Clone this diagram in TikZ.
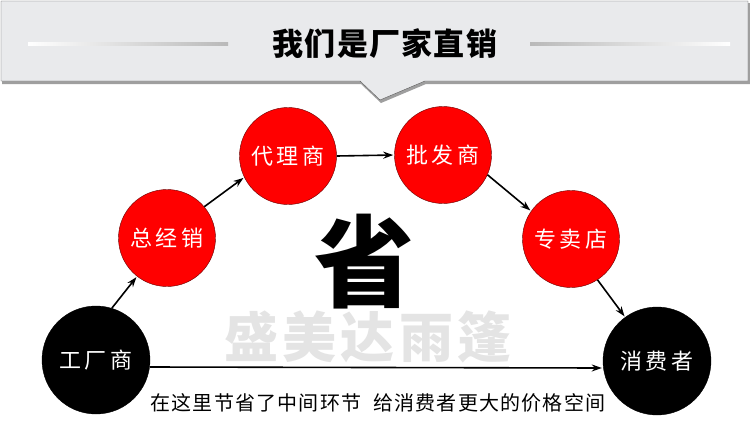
\documentclass[tikz,border=0pt]{standalone}
\usepackage{fontspec}
\usepackage{tikz}
\usetikzlibrary{positioning, arrows.meta}
\newfontfamily\cjk{Noto Sans CJK SC}
\definecolor{bannergray}{HTML}{E9EAEC}
\definecolor{wmgray}{HTML}{E4E4E4}

\begin{document}
\begin{tikzpicture}[x=1pt, y=-1pt, >={Stealth[length=10pt, width=7pt]},
  redball/.style={circle, fill=red, draw=red!40!black, thin, minimum size=97pt, inner sep=0pt, text=white, font=\cjk\fontsize{22}{22}\selectfont\addfontfeature{LetterSpace=16}},
  blackball/.style={redball, fill=black, draw=black, minimum size=108pt},
  flow/.style={->, line width=1.6pt, shorten >=1pt}]
  \useasboundingbox (0,0) rectangle (750,437);

  % Draw banner with pointer and its shadow
  \fill[gray!75] (2,3) -- (750,3) -- (750,84) -- (426,84) -- (381,103) -- (361,84) -- (2,84) -- cycle;
  \draw[fill=bannergray, draw=gray!70!black, thin] (1,1) -- (748,1) -- (748,81) -- (425,81) -- (380,100) -- (360,81) -- (1,81) -- cycle;
  \shade[left color=white, right color=gray!55] (28,42) rectangle (228,45);
  \shade[left color=gray!55, right color=white] (530,42) rectangle (730,45);
  \node[font=\cjk\bfseries\fontsize{31}{31}\selectfont\addfontfeature{LetterSpace=4}] (title) at (385,44) {我们是厂家直销};

  % Watermark and the big character
  \node[text=wmgray, font=\cjk\bfseries\fontsize{54}{54}\selectfont\addfontfeature{LetterSpace=8}] (wm) at (368,337) {盛美达雨篷};
  \node[font=\cjk\bfseries\fontsize{100}{100}\selectfont] (sheng) at (364,262) {省};

  % Draw the chain of dealers
  \node[blackball] (gcs) at (96,360) {工厂商};
  \node[redball] (zjx) at (167,238) {总经销};
  \node[redball] (dls) at (288,156) {代理商};
  \node[redball] (pfs) at (443,155) {批发商};
  \node[redball] (zmd) at (571,239) {专卖店};
  \node[blackball] (xfz) at (657,361) {消费者};

  % Arrows between them
  \draw[flow] (gcs.73) -- (zjx.232);
  \draw[flow] (zjx.40) -- (dls.206);
  \draw[flow] (dls.east) -- (pfs.west);
  \draw[flow] (pfs.-24) -- (zmd.145);
  \draw[flow] (zmd.-57) -- (xfz.126);
  \draw[flow] ([yshift=-7pt]gcs.east) -- ([yshift=-7pt]xfz.west);

  % Note under the direct arrow
  \node[anchor=west, font=\cjk\fontsize{20}{20}\selectfont\addfontfeature{LetterSpace=6}] (note) at (147,403) {在这里节省了中间环节\hspace{12pt}给消费者更大的价格空间};
\end{tikzpicture}
\end{document}
